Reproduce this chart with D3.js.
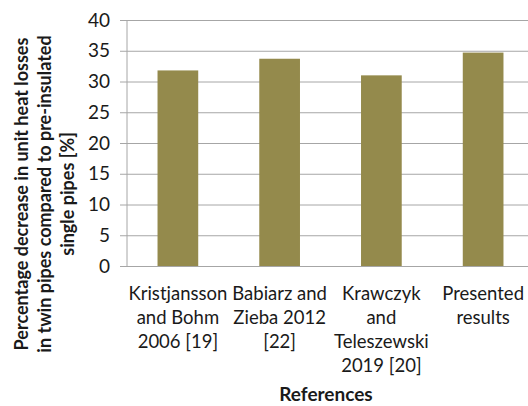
<!DOCTYPE html>
<html>
<head>
<meta charset="utf-8">
<script src="https://cdn.jsdelivr.net/npm/d3@7"></script>
<style>
  html, body { margin: 0; padding: 0; background: #fff; }
  svg { display: block; }
  text { font-family: Lato, "Open Sans", sans-serif; fill: #1a1a1a; }
</style>
</head>
<body>
<script>
// Reference studies compared against the presented results
const categories = [
  ["Kristjansson", "and Bohm", "2006 [19]"],
  ["Babiarz and", "Zieba 2012", "[22]"],
  ["Krawczyk", "and", "Teleszewski", "2019 [20]"],
  ["Presented", "results"]
];
// Percentage decrease in unit heat losses, twin vs single pipes
const values = [31.8, 33.7, 31.0, 34.7];
const yTicks = [0, 5, 10, 15, 20, 25, 30, 35, 40];
const yTitleLines = [
  "Percentage decrease in unit heat losses",
  "in twin pipes compared to pre-insulated",
  "single pipes [%]"
];
const xTitle = "References";

const width = 528, height = 406;
const margin = { left: 127, right: -6, top: 20, bottom: 140 };

const svg = d3.select("body").append("svg")
  .attr("width", width).attr("height", height);

const x = d3.scaleBand()
  .domain(d3.range(categories.length))
  .range([margin.left, width - margin.right])
  .paddingInner(0.6).paddingOuter(0.3);

const y = d3.scaleLinear()
  .domain([0, 40])
  .range([height - margin.bottom, margin.top]);

// Horizontal gridlines with short tick stubs
const yAxis = d3.axisLeft(y).tickValues(yTicks)
  .tickSize(-(width - margin.left - margin.right)).tickSizeOuter(0).tickPadding(17);
const gy = svg.append("g").attr("transform", `translate(${margin.left},0)`).call(yAxis);
gy.select(".domain").remove();
gy.selectAll(".tick line").attr("stroke", "#a6a6a6").attr("x1", -7);
gy.selectAll(".tick text")
  .attr("font-size", 19).attr("font-family", "Lato, sans-serif").attr("fill", "#1a1a1a");

// Vertical axis line
svg.append("line")
  .attr("x1", margin.left).attr("x2", margin.left)
  .attr("y1", y(40)).attr("y2", y(0))
  .attr("stroke", "#a6a6a6");

// Bars
svg.append("g").selectAll("rect").data(values).join("rect")
  .attr("x", (d, i) => x(i))
  .attr("width", x.bandwidth())
  .attr("y", d => y(d))
  .attr("height", d => y(0) - y(d))
  .attr("fill", "#948a4c");

// Category labels (multi-line)
const lab = svg.append("g").selectAll("text").data(categories).join("text")
  .attr("text-anchor", "middle")
  .attr("font-size", 18.5)
  .attr("x", (d, i) => x(i) + x.bandwidth() / 2)
  .attr("y", y(0) + 34);
lab.selectAll("tspan").data(d => d).join("tspan")
  .attr("x", function () { return this.parentNode.getAttribute("x"); })
  .attr("dy", (d, i) => i === 0 ? 0 : 24)
  .text(d => d);

// X-axis title
svg.append("text")
  .attr("x", 326).attr("y", 401)
  .attr("text-anchor", "middle")
  .attr("font-size", 19).attr("font-weight", "bold")
  .text(xTitle);

// Y-axis title (three rotated lines)
const yt = svg.append("text")
  .attr("transform", "translate(0,194) rotate(-90)")
  .attr("text-anchor", "middle")
  .attr("font-size", 18).attr("font-weight", "bold");
yt.selectAll("tspan").data(yTitleLines).join("tspan")
  .attr("x", 0)
  .attr("y", (d, i) => 28 + i * 23)
  .text(d => d);
</script>
</body>
</html>
